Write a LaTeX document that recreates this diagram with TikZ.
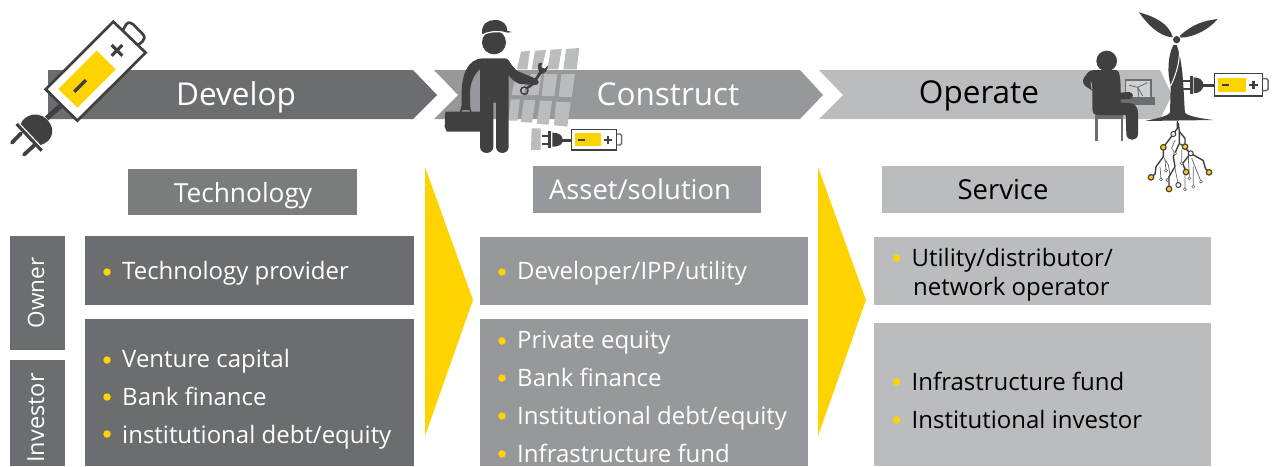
\documentclass[tikz,border=0pt]{standalone}
\usepackage{fontspec}
\setmainfont{Open Sans}
\definecolor{barA}{HTML}{6C6D71}
\definecolor{barB}{HTML}{97989B}
\definecolor{barC}{HTML}{BBBCBE}
\definecolor{headA}{HTML}{7B7D7C}
\definecolor{dk}{HTML}{404041}
\definecolor{ey}{HTML}{FFD300}
\tikzset{
  x=1pt,y=-1pt,
  bartxt/.style={font=\fontsize{31.5}{31}\selectfont,anchor=base,inner sep=0pt},
  hdr/.style={anchor=base,inner sep=0pt},
  rowtxt/.style={font=\fontsize{24}{29}\selectfont,anchor=base west,inner sep=0pt},
  dot/.style={circle,fill=ey,inner sep=0pt,minimum size=7.5pt},
  panel/.style={fill=barC,draw=none},
  wire/.style={draw=dk,line width=1.4pt,line cap=round,line join=round},
  thinwire/.style={draw=barA,line width=.75pt,line cap=round,line join=round},
  pad/.style={circle,draw=dk,line width=1.2pt,fill=ey,inner sep=0pt,minimum size=5.5pt},
  padw/.style={circle,draw=dk,line width=1pt,fill=white,inner sep=0pt,minimum size=5pt},
  padt/.style={circle,draw=barA,line width=.6pt,fill=white,inner sep=0pt,minimum size=3pt},
}
\newcommand{\itm}[5]{\node[dot] (d#1) at (#2,#3) {}; \node[rowtxt] (t#1) at (#2+15,#4) {#5};}
\begin{document}
\begin{tikzpicture}
\useasboundingbox (0,0) rectangle (1276,466);
% chevron bars
\fill[barA] (48,70) -- (413,70) -- (437,95) -- (413,119) -- (48,119) -- cycle;
\fill[barB] (434,70) -- (800,70) -- (823,95) -- (800,119) -- (434,119) -- (458,95) -- cycle;
\fill[barC] (819,70) -- (1160,70) -- (1172,95) -- (1160,119) -- (819,119) -- (843,95) -- cycle;
\node[bartxt,text=white] (develop) at (236,105) {Develop};
\node[bartxt,text=white] (construct) at (668,105) {Construct};
\node[bartxt,text=black] (operate) at (979,103) {Operate};
% yellow arrows
\fill[ey] (425,167) -- (473,300) -- (425,436) -- cycle;
\fill[ey] (818,167) -- (866,300) -- (818,436) -- cycle;
% headers
\fill[headA] (128,169) rectangle (357,215);
\fill[barB] (533,166) rectangle (761,213);
\fill[barC] (882,166) rectangle (1124,213);
\node[hdr,text=white,font=\fontsize{26.3}{26}\selectfont] (tech) at (243,202) {Technology};
\node[hdr,text=white,font=\fontsize{27.4}{26}\selectfont] (asset) at (640,199) {Asset/solution};
\node[hdr,text=black,font=\fontsize{27.5}{26}\selectfont] (service) at (1003,199) {Service};
% side labels
\fill[barA] (10,236) rectangle (65,350);
\fill[barA] (10,360) rectangle (65,466);
\node[hdr,text=white,rotate=90,font=\fontsize{22.5}{22}\selectfont] (owner) at (44,293) {Owner};
\node[hdr,text=white,rotate=90,font=\fontsize{23.5}{22}\selectfont] (investor) at (44,418) {Investor};
% rows
\fill[barA] (85,236) rectangle (414,305);
\fill[barA] (85,319) rectangle (414,466);
\fill[barB] (480,237) rectangle (808,305);
\fill[barB] (480,319) rectangle (808,466);
\fill[barC] (874,237) rectangle (1211,305);
\fill[barC] (874,323) rectangle (1211,466);
% row text
\begin{scope}[every node/.append style={text=white}]
\itm{a}{107}{272}{279}{Technology provider}
\itm{b}{107}{360}{367}{Venture capital}
\itm{c}{107}{397}{405}{Bank finance}
\itm{e}{107}{434}{443}{institutional debt/equity}
\itm{f}{502}{272}{279}{Developer/IPP/utility}
\itm{g}{502}{341}{348}{Private equity}
\itm{h}{502}{378}{386}{Bank finance}
\itm{i}{502}{416}{424}{Institutional debt/equity}
\itm{j}{502}{454}{462}{Infrastructure fund}
\end{scope}
\begin{scope}[every node/.append style={text=black}]
\itm{k}{896.5}{258}{266}{Utility/distributor/}
\node[rowtxt] (tk2) at (913,295) {network operator};
\itm{l}{896.5}{382}{390}{Infrastructure fund}
\itm{m}{896.5}{420}{428}{Institutional investor}
\end{scope}
% big battery (zoom coords)
\begin{scope}[scale=1/3]
\draw[dk,line width=5pt] (190,310) -- (140,355);
\fill[dk] (62,372) .. controls (72,345) and (120,325) .. (150,370) .. controls (165,395) and (155,425) .. (122,435) -- cycle;
\draw[dk,line width=3.2pt] (50,372) -- (125,452);
\draw[dk,line width=3.8pt,line cap=round] (63,400) -- (36,428) (103,436) -- (72,464);
\draw[dk,line width=2.7pt,fill=white,line join=round] (368,92) -- (378,74) .. controls (384,66) and (392,66) .. (398,72) -- (428,102) .. controls (436,110) and (434,118) .. (428,124) -- (415,135);
\fill[white,draw=dk,line width=2.7pt,line join=miter] (340,65) -- (437,158) -- (232,362) -- (137,268) -- cycle;
\fill[ey] (290,152) -- (347,208) -- (232,323) -- (175,267) -- cycle;
\draw[dk,line width=3.2pt] (258,240) -- (223,275);
\draw[dk,line width=3.2pt] (335,135) -- (367,167) (367,135) -- (335,167);
\end{scope}
% construction worker and panels (zoom coords)
\begin{scope}[shift={(420,10)},scale=1/3]
\fill[panel] (303,125) -- (330,122) -- (322,178) -- (291,178) -- cycle;
\fill[panel] (345,122) -- (378,120) -- (365,178) -- (335,178) -- cycle;
\fill[panel] (392,119) -- (425,117) -- (415,178) -- (382,178) -- cycle;
\fill[panel] (438,117) -- (478,114) -- (470,178) -- (430,178) -- cycle;
\fill[panel] (288,192) -- (320,192) -- (312,255) -- (275,255) -- cycle;
\fill[panel] (332,192) -- (365,192) -- (355,255) -- (322,255) -- cycle;
\fill[panel] (372,192) -- (412,192) -- (403,258) -- (365,258) -- cycle;
\fill[panel] (424,192) -- (465,192) -- (455,262) -- (416,260) -- cycle;
\fill[panel] (272,268) -- (300,268) -- (292,332) -- (265,332) -- cycle;
\fill[panel] (312,270) -- (346,270) -- (336,338) -- (302,336) -- cycle;
\fill[panel] (360,272) -- (396,273) -- (386,344) -- (350,342) -- cycle;
\fill[panel] (408,275) -- (452,277) -- (442,350) -- (402,346) -- cycle;
\fill[panel] (335,355) -- (362,355) -- (362,420) -- (333,420) -- cycle;
% head and helmet
\fill[dk] (222,97) circle (36);
\draw[white,line width=1.4pt] (183,76) .. controls (210,62) and (240,62) .. (265,70);
\fill[dk] (186,73) .. controls (183,40) and (205,30) .. (225,30) .. controls (250,30) and (262,45) .. (262,63) -- (276,66) -- (262,68) .. controls (240,60) and (210,60) .. (186,73) -- cycle;
% body
\fill[dk] (190,145) -- (255,145) .. controls (265,145) and (268,155) .. (275,165) -- (290,182) -- (345,205) .. controls (360,210) and (360,225) .. (345,225) -- (300,222) .. controls (285,218) and (272,205) .. (266,195) -- (266,410) .. controls (266,435) and (228,435) .. (228,410) -- (228,278) -- (220,278) -- (220,410) .. controls (220,435) and (180,435) .. (180,410) -- (180,178) .. controls (165,190) and (150,215) .. (150,250) -- (150,300) -- (125,300) -- (125,250) .. controls (125,200) and (140,145) .. (190,145) -- cycle;
% toolbox
\fill[dk] (76,305) -- (180,305) -- (180,365) -- (80,365) -- (74,350) -- cycle;
\draw[dk,line width=1.6pt] (122,306) -- (126,290) -- (148,290) -- (152,306);
% wrench
\draw[dk,line width=2.8pt,line cap=round] (345,212) -- (368,178);
\fill[dk] (356,160) -- (366,158) -- (364,172) -- (374,176) -- (384,166) .. controls (384,180) and (375,192) .. (362,192) .. controls (355,185) and (352,172) .. (356,160) -- cycle;
\draw[dk,line width=2.4pt,line cap=round] (345,218) -- (322,234);
\draw[dk,line width=1.5pt] (313,242) circle (11);
% small battery and plug
\draw[dk,line width=3pt] (452,390) -- (425,390);
\fill[dk] (397,368) .. controls (420,368) and (428,378) .. (428,390) .. controls (428,402) and (420,410) .. (397,410) -- cycle;
\draw[dk,line width=2.6pt] (388,363) -- (388,414);
\draw[dk,line width=2pt] (365,378) -- (388,378) (365,402) -- (388,402);
\draw[barA,line width=1.4pt,fill=white,rounded corners=1.5pt] (588,372) -- (605,372) -- (605,405) -- (588,405);
\fill[white,draw=dk,line width=1.5pt] (455,358) rectangle (590,420);
\fill[ey] (465,369) rectangle (543,408);
\draw[dk,line width=2.2pt] (473,390) -- (495,390) (553,390) -- (575,390) (564,379) -- (564,401);
\end{scope}
% wind turbine, operator, battery (zoom coords)
\begin{scope}[shift={(1060,0)},scale=1/3]
% chair
\fill[barA] (105,345) rectangle (190,358);
\fill[barA] (105,358) rectangle (113,422);
\fill[barA] (182,358) rectangle (190,422);
% laptop
\draw[barA,line width=1.4pt,fill=barC!70!white] (197,240) rectangle (273,292);
\fill[barA] (172,292) rectangle (285,315);
\draw[barA,line width=.9pt] (233,262) -- (236,290) (233,262) -- (208,256) (233,262) -- (262,248) (233,262) -- (248,288);
% operator
\fill[dk] (140,183) circle (31);
\fill[dk] (100,210) -- (168,210) .. controls (178,212) and (182,225) .. (182,278) -- (208,276) .. controls (222,278) and (222,296) .. (208,297) -- (182,298) -- (182,308) -- (212,310) .. controls (228,312) and (234,325) .. (234,340) -- (234,402) .. controls (234,425) and (199,425) .. (199,402) -- (197,345) -- (112,345) .. controls (102,345) and (97,338) .. (97,325) -- (97,272) -- (76,258) .. controls (65,248) and (68,235) .. (78,225) .. controls (85,215) and (92,210) .. (100,210) -- cycle;
\draw[barC,line width=.8pt] (96,268) -- (93,246);
% tower and blades
\fill[dk] (350,135) .. controls (362,165) and (368,220) .. (370,255) -- (375,345) -- (330,345) -- (332,255) .. controls (322,225) and (322,170) .. (340,135) -- cycle;
\fill[dk] (255,363) .. controls (290,355) and (320,350) .. (330,338) -- (375,338) .. controls (385,350) and (430,356) .. (460,360) -- cycle;
\draw[white,line width=1pt] (358,150) .. controls (360,190) and (345,230) .. (332,258);
\fill[dk] (338,110) .. controls (325,70) and (285,50) .. (237,37) .. controls (260,70) and (295,108) .. (336,112) -- cycle;
\fill[dk] (360,107) .. controls (400,70) and (435,62) .. (473,57) .. controls (450,85) and (405,112) .. (362,113) -- cycle;
\fill[dk] (350,119) circle (11);
% plug and battery
\draw[dk,line width=3pt] (465,255) -- (428,255);
\fill[dk] (401,232) .. controls (420,232) and (430,242) .. (430,255) .. controls (430,268) and (420,280) .. (401,280) -- cycle;
\draw[dk,line width=2.8pt] (394,228) -- (394,283);
\draw[dk,line width=2pt] (370,243) -- (394,243) (370,266) -- (394,266);
\draw[barA,line width=1.5pt,fill=white,rounded corners=1.5pt] (605,236) -- (624,236) -- (624,272) -- (605,272);
\fill[white,draw=dk,line width=1.6pt] (463,220) rectangle (607,288);
\fill[ey] (473,234) rectangle (558,276);
\draw[dk,line width=2.4pt] (485,255) -- (507,255) (567,255) -- (594,255) (580,242) -- (580,268);
% roots
\draw[thinwire] (310,470) -- (325,495) -- (330,525) -- (322,540) (345,420) -- (335,445) -- (345,460) (300,500) -- (303,538) (315,480) -- (318,512) (400,500) -- (400,560) (395,475) -- (423,545) (365,450) -- (365,490) (375,500) -- (375,568) (345,505) -- (355,555) (385,470) -- (388,535);
\draw[wire] (352,365) -- (352,385) -- (340,402) -- (310,442) -- (310,470) -- (288,500) -- (285,522) -- (273,532);
\draw[wire] (355,370) -- (358,395) -- (375,415) -- (375,440);
\draw[wire] (358,395) -- (358,430) -- (340,470) -- (345,500) -- (327,530) -- (327,567);
\draw[wire] (362,432) -- (392,460) -- (430,482) -- (436,505) -- (447,517);
\draw[wire] (392,460) -- (368,490) -- (378,516);
\node[padw] (r1) at (340,402) {};
\node[padw] (r2) at (392,460) {};
\node[padw] (r3) at (355,555) {};
\node[pad] (y1) at (310,442) {};
\node[pad] (y2) at (375,440) {};
\node[pad] (y3) at (273,532) {};
\node[pad] (y4) at (327,567) {};
\node[pad] (y5) at (378,516) {};
\node[pad] (y6) at (447,517) {};
\node[padt] (w1) at (375,568) {};
\node[padt] (w2) at (400,560) {};
\node[padt] (w3) at (423,545) {};
\node[padt] (w4) at (322,540) {};
\node[padt] (w5) at (303,538) {};
\node[padt] (w6) at (318,512) {};
\node[padt] (w7) at (345,460) {};
\node[padt] (w8) at (365,490) {};
\node[padt] (w9) at (388,535) {};
\end{scope}
\end{tikzpicture}
\end{document}
